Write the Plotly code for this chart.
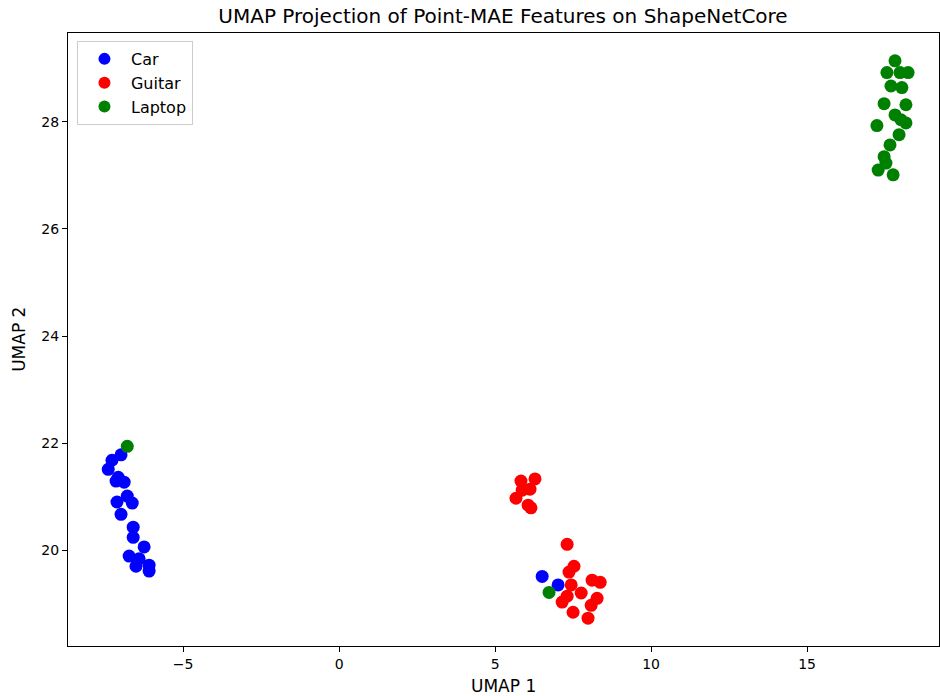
import plotly.graph_objects as go

car_x = [-6.99, -7.28, -7.40, -7.08, -7.15, -6.89, -6.79, -7.12, -6.63, -6.99,
         -6.60, -6.60, -6.25, -6.73, -6.41, -6.51, -6.09, -6.09, 6.51, 7.02]
car_y = [21.78, 21.68, 21.51, 21.36, 21.29, 21.27, 21.01, 20.90, 20.88, 20.67,
         20.43, 20.24, 20.06, 19.89, 19.84, 19.70, 19.72, 19.61, 19.51, 19.35]

guitar_x = [5.83, 6.28, 6.12, 5.67, 5.87, 6.06, 6.15, 7.31, 7.53, 7.37,
            8.11, 8.37, 7.44, 7.76, 8.27, 7.31, 7.15, 8.08, 7.50, 7.98]
guitar_y = [21.29, 21.33, 21.14, 20.97, 21.12, 20.84, 20.79, 20.11, 19.70, 19.59,
            19.44, 19.40, 19.35, 19.20, 19.10, 19.14, 19.03, 18.97, 18.84, 18.73]

laptop_x = [17.82, 17.56, 17.98, 18.24, 17.69, 18.04, 17.47, 18.17, 17.82, 17.24,
            18.01, 18.17, 17.95, 17.66, 17.47, 17.53, 17.28, 17.76, -6.79, 6.73]
laptop_y = [29.14, 28.92, 28.92, 28.92, 28.67, 28.64, 28.34, 28.32, 28.13, 27.93,
            28.04, 27.98, 27.76, 27.57, 27.35, 27.23, 27.10, 27.01, 21.94, 19.21]

x_range = [-8.69, 19.23]
y_range = [18.21, 29.66]

fig = go.Figure()
for name, xs, ys, col in [("Car", car_x, car_y, "blue"),
                          ("Guitar", guitar_x, guitar_y, "red"),
                          ("Laptop", laptop_x, laptop_y, "green")]:
    fig.add_trace(go.Scatter(x=xs, y=ys, mode="markers", name=name,
                             marker=dict(color=col, size=13, line=dict(width=0))))

font = "DejaVu Sans"
axis_common = dict(showline=True, linecolor="black", linewidth=1, mirror=True,
                   ticks="outside", ticklen=5, tickcolor="black", showgrid=False,
                   zeroline=False, automargin=False,
                   tickfont=dict(family=font, size=14, color="black"))

fig.update_layout(
    width=940, height=696,
    margin=dict(l=68, r=1, t=33, b=50),
    paper_bgcolor="white", plot_bgcolor="white",
    title=dict(text="UMAP Projection of Point-MAE Features on ShapeNetCore",
               x=503 / 940, xanchor="center", y=1 - 16 / 696, yanchor="middle",
               font=dict(family=font, size=20, color="black"), automargin=False),
    xaxis=dict(range=x_range, dtick=5, **axis_common),
    yaxis=dict(range=y_range, dtick=2, **axis_common),
    legend=dict(x=0.0103, y=0.987, xanchor="left", yanchor="top",
                bgcolor="white", bordercolor="#cccccc", borderwidth=1,
                itemwidth=43, tracegroupgap=0,
                font=dict(family=font, size=16, color="black"), itemsizing="constant"),
    showlegend=True,
    annotations=[
        dict(text="UMAP 1", xref="paper", yref="paper", x=0.5, y=-0.0653,
             xanchor="center", yanchor="middle", showarrow=False,
             font=dict(family=font, size=17, color="black")),
        dict(text="UMAP 2", xref="paper", yref="paper", x=-0.057, y=0.5,
             xanchor="center", yanchor="middle", showarrow=False, textangle=-90,
             font=dict(family=font, size=17, color="black")),
    ],
)

fig.write_html("out.html", config={"displayModeBar": False},
               post_script="document.body.style.margin='0';")
